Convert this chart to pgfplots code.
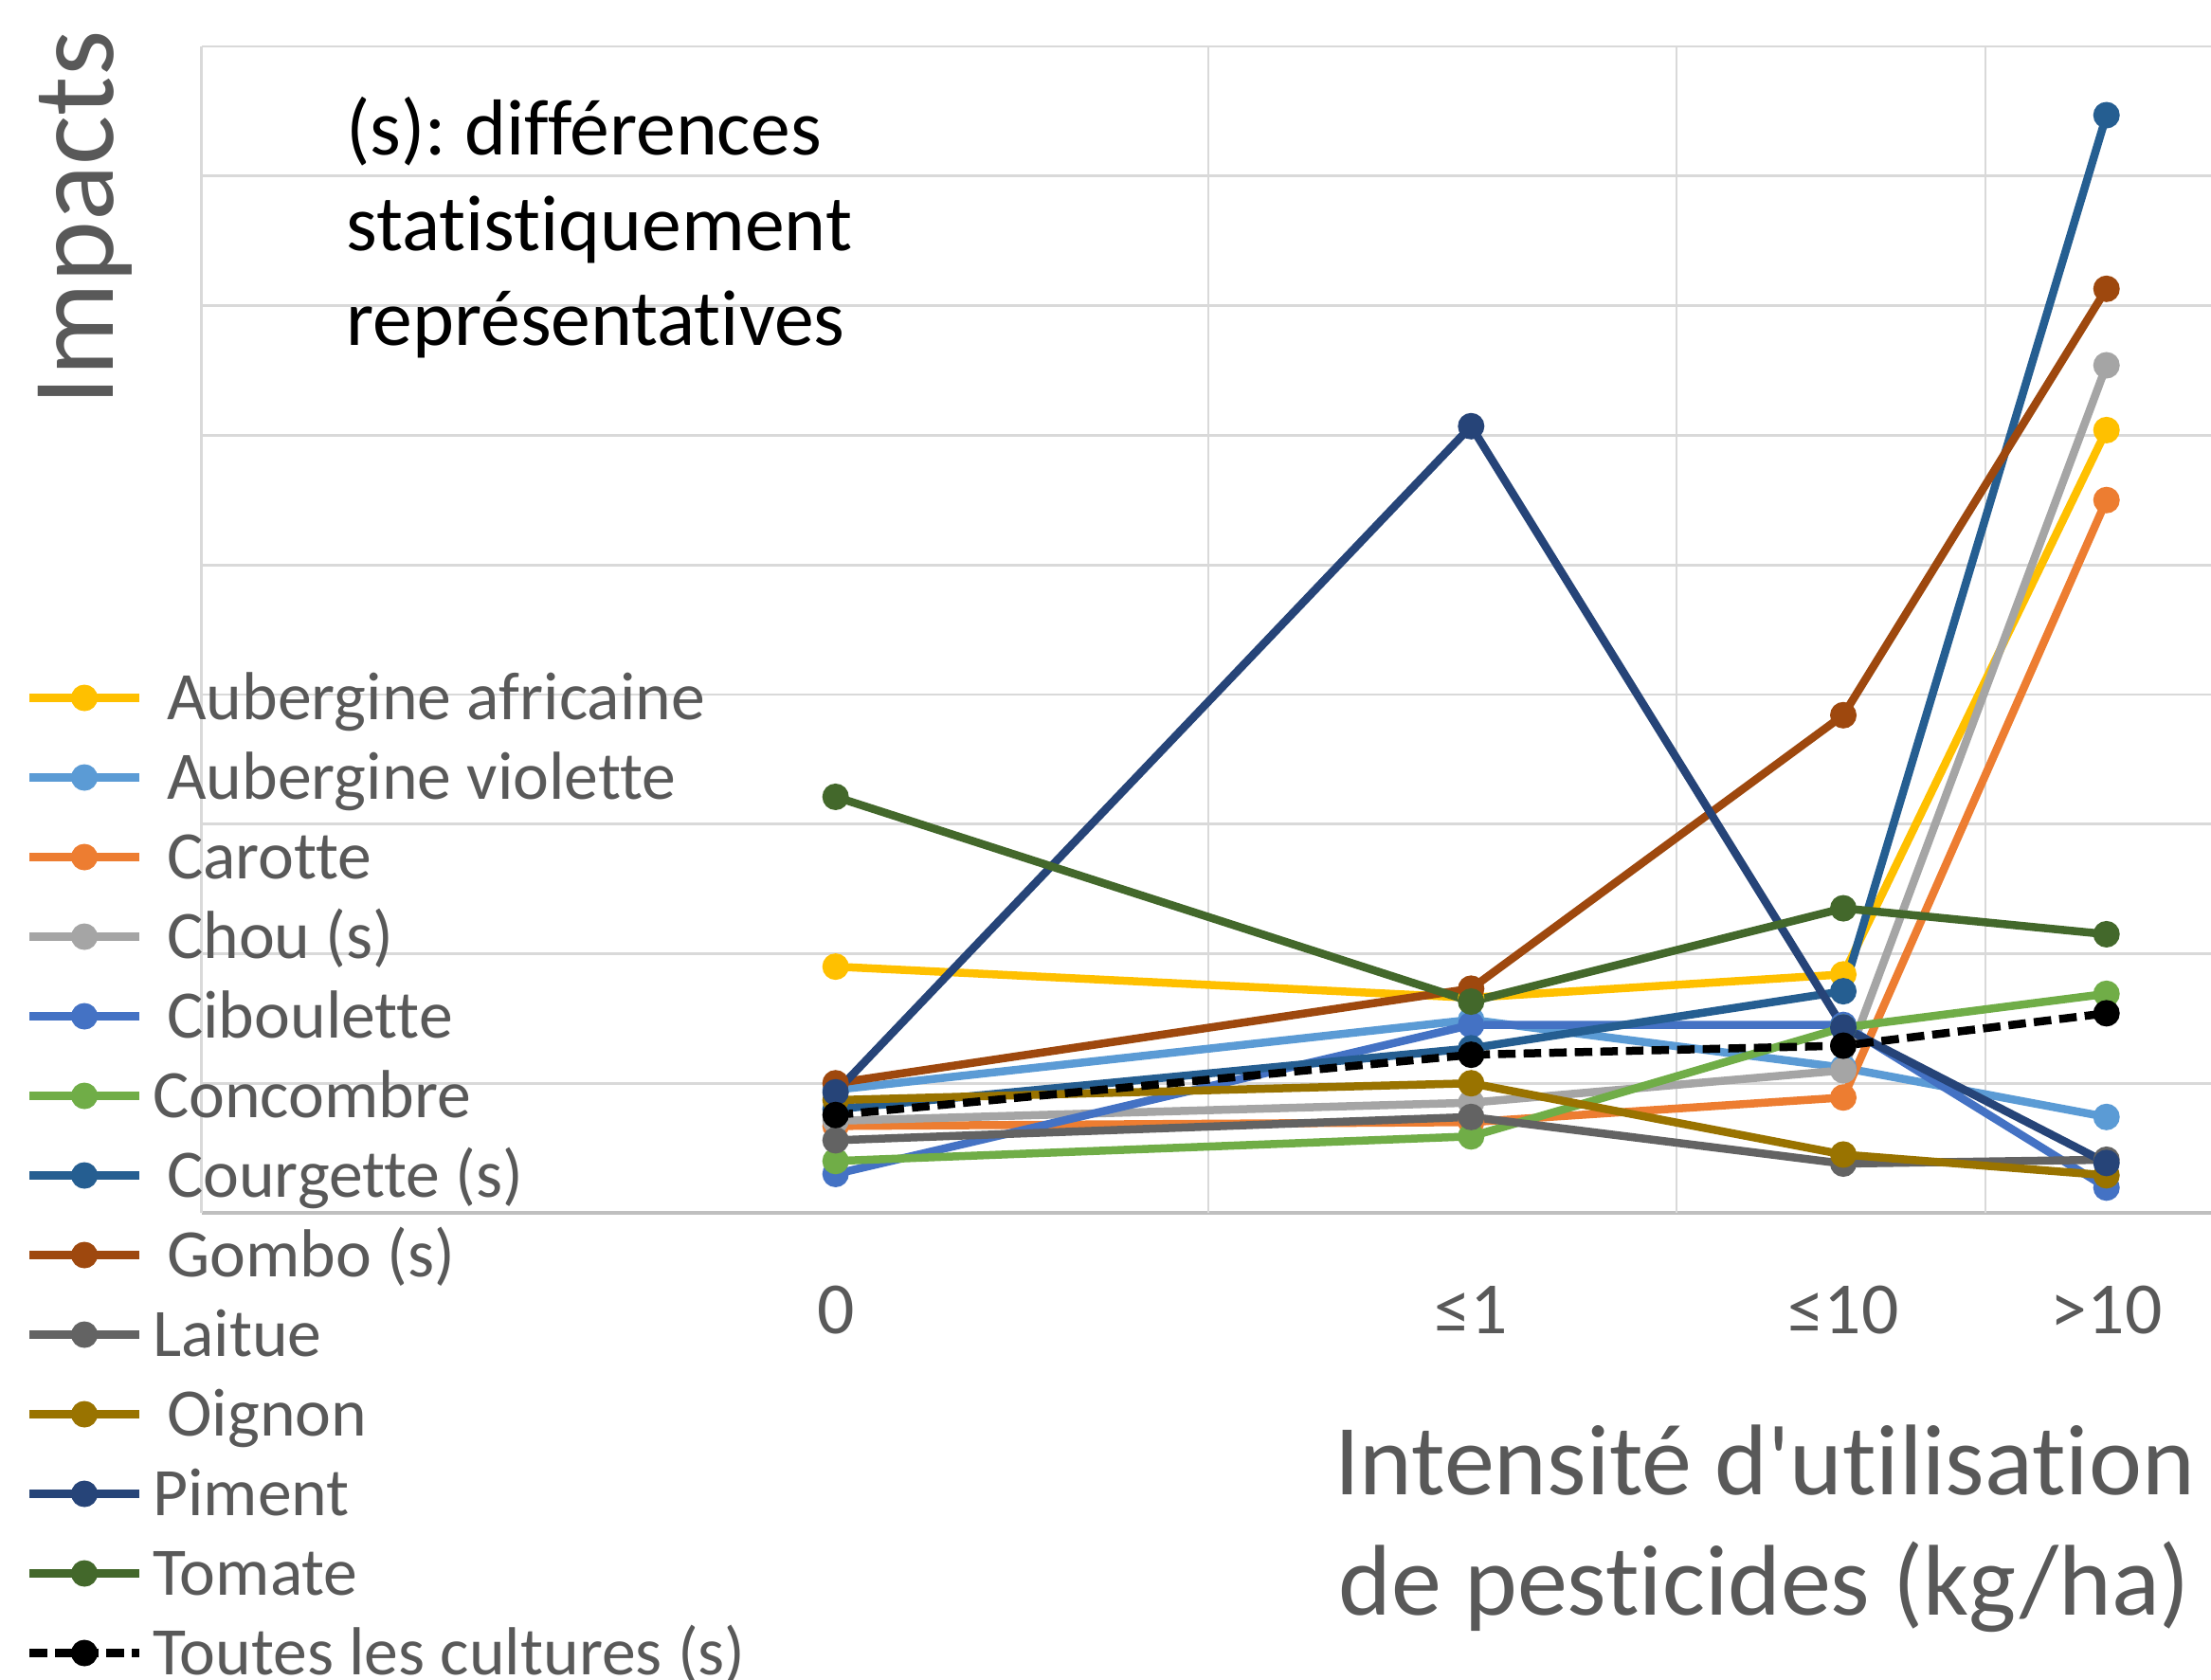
\documentclass[border=0pt]{standalone}
\usepackage{fontspec}
\setmainfont{Carlito}[Ligatures={TeXOff,NoCommon}]
\usepackage{pgfplots}
\pgfplotsset{compat=1.18}
\definecolor{tg}{HTML}{595959}
\definecolor{gridc}{HTML}{D9D9D9}
\definecolor{axc}{HTML}{BFBFBF}
\definecolor{cAA}{HTML}{FFC000}
\definecolor{cAV}{HTML}{5B9BD5}
\definecolor{cCa}{HTML}{ED7D31}
\definecolor{cCh}{HTML}{A5A5A5}
\definecolor{cCi}{HTML}{4472C4}
\definecolor{cCo}{HTML}{70AD47}
\definecolor{cCg}{HTML}{255E91}
\definecolor{cGo}{HTML}{9E480E}
\definecolor{cLa}{HTML}{636363}
\definecolor{cOi}{HTML}{997300}
\definecolor{cPi}{HTML}{264478}
\definecolor{cTo}{HTML}{43682B}
\pgfplotsset{ser/.style={color=#1, line width=1.7bp, mark=*, mark size=2.6bp, mark options={solid, fill=#1, line width=0.4bp}}}
\frenchspacing
\begin{document}
\begin{tikzpicture}
\path[use as bounding box] (0,0) rectangle (466.6bp,354.6bp);
\begin{axis}[
  at={(42.56bp,98.6bp)}, anchor=south west,
  scale only axis, width=424.04bp, height=246.2bp,
  xmin=212.8, xmax=2333, ymin=0, ymax=9,
  axis x line=bottom, axis y line=left,
  x axis line style={color=axc, line width=0.75bp, -},
  y axis line style={color=gridc, line width=0.55bp, -},
  xtick={881.7,1552.3,1945,2222.7},
  xticklabels={0,≤1,≤10,>10},
  xticklabel style={font=\fontsize{15.6}{18}\selectfont, text=tg, anchor=base, yshift=-25.5bp},
  extra x ticks={1275,1769,2095},
  extra x tick labels={,,},
  extra x tick style={grid=major},
  ytick={1,...,9}, yticklabels={},
  ymajorgrids,
  major grid style={color=gridc, line width=0.55bp},
  major tick length=0pt,
  clip=false,
  xlabel={Intensité d'utilisation\\de pesticides (kg/ha)},
  xlabel style={at={(axis description cs:0.7779,0)}, anchor=base, yshift=-84.8bp, align=center, font=\fontsize{21.3}{25.4}\selectfont, text=tg},
  legend cell align=left,
  legend style={at={(axis description cs:-0.08773,0.47563)}, anchor=north west, draw=none, fill=none, inner sep=0pt, outer sep=0pt,
    font=\fontsize{14.4}{16.8}\selectfont, text=tg, row sep=0pt, column sep=2.0bp,
    nodes={inner sep=0pt, text height=13bp, text depth=3.8bp}},
  legend image code/.code={\draw[mark repeat=2,mark phase=2] plot coordinates {(0bp,0bp) (11.6bp,0bp) (23.2bp,0bp)};},
]
\addplot[ser=cAA] coordinates {(881.7,1.90) (1552.3,1.66) (1945,1.84) (2222.7,6.04)};
\addlegendentry{\hspace{3bp}Aubergine africaine}
\addplot[ser=cAV] coordinates {(881.7,0.95) (1552.3,1.49) (1945,1.12) (2222.7,0.74)};
\addlegendentry{\hspace{3bp}Aubergine violette}
\addplot[ser=cCa] coordinates {(881.7,0.67) (1552.3,0.70) (1945,0.89) (2222.7,5.50)};
\addlegendentry{\hspace{3bp}Carotte}
\addplot[ser=cCh] coordinates {(881.7,0.71) (1552.3,0.85) (1945,1.10) (2222.7,6.54)};
\addlegendentry{\hspace{3bp}Chou (s)}
\addplot[ser=cCi] coordinates {(881.7,0.30) (1552.3,1.45) (1945,1.45) (2222.7,0.195)};
\addlegendentry{\hspace{3bp}Ciboulette}
\addplot[ser=cCo] coordinates {(881.7,0.40) (1552.3,0.59) (1945,1.43) (2222.7,1.69)};
\addlegendentry{Concombre}
\addplot[ser=cCg] coordinates {(881.7,0.80) (1552.3,1.27) (1945,1.71) (2222.7,8.47)};
\addlegendentry{\hspace{3bp}Courgette (s)}
\addplot[ser=cGo] coordinates {(881.7,1.00) (1552.3,1.73) (1945,3.84) (2222.7,7.13)};
\addlegendentry{\hspace{3bp}Gombo (s)}
\addplot[ser=cLa] coordinates {(881.7,0.56) (1552.3,0.74) (1945,0.38) (2222.7,0.41)};
\addlegendentry{Laitue}
\addplot[ser=cOi] coordinates {(881.7,0.87) (1552.3,1.00) (1945,0.45) (2222.7,0.29)};
\addlegendentry{\hspace{3bp}Oignon}
\addplot[ser=cPi] coordinates {(881.7,0.93) (1552.3,6.07) (1945,1.43) (2222.7,0.385)};
\addlegendentry{Piment}
\addplot[ser=cTo] coordinates {(881.7,3.21) (1552.3,1.63) (1945,2.35) (2222.7,2.15)};
\addlegendentry{Tomate}
\addplot[ser=black, dash pattern=on 3.7bp off 1.7bp] coordinates {(881.7,0.755) (1552.3,1.22) (1945,1.29) (2222.7,1.54)};
\addlegendentry{Toutes les cultures (s)}
\end{axis}
\node[anchor=base west, align=left, font=\fontsize{16.8}{20.2}\selectfont, text=black, inner sep=0pt] at (72.9bp,281.6bp) {(s): différences\\statistiquement\\représentatives};
\node[rotate=90, anchor=base, font=\fontsize{24.8}{29}\selectfont, text=tg, inner sep=0pt] at (23.8bp,308.5bp) {Impacts};
\end{tikzpicture}
\end{document}
